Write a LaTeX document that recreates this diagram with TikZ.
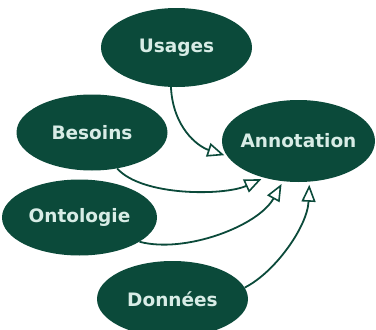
\documentclass[tikz,border=0pt]{standalone}
\usepackage{fontspec}
\setmainfont{DejaVu Sans}
\usetikzlibrary{shapes.geometric,arrows.meta}
\definecolor{dkgreen}{HTML}{0B4A3A}
\definecolor{mint}{HTML}{D8ECE6}
\tikzset{
  blob/.style={ellipse, fill=dkgreen, draw=none, inner ysep=0pt, inner xsep=-15pt, text=mint,
    font=\fontsize{18.5}{21}\selectfont\bfseries},
  link/.style={draw=dkgreen, line width=1.8pt,
    -{Triangle[open, length=17pt, width=14pt, line width=1.6pt]}, shorten >=3pt}
}
\begin{document}
\begin{tikzpicture}[x=1pt, y=-1pt]
\useasboundingbox (0,0) rectangle (376,330);
\node[blob, minimum width=151pt, minimum height=79pt] (use) at (176.5,47.5) {Usages};
\node[blob, minimum width=151pt, minimum height=76pt] (bes) at (92,132.5) {Besoins};
\node[blob, minimum width=153pt, minimum height=82pt] (ann) at (298.5,141) {Annotation};
\node[blob, minimum width=155pt, minimum height=76pt] (ont) at (79.5,217.5) {Ontologie};
\node[blob, minimum width=151pt, minimum height=76pt] (don) at (172.5,299) {Données};
\draw[link] (use.262) .. controls +(2,40) and +(-30,-10) .. (ann.192);
\draw[link] (bes.305) .. controls +(25,28) and +(-40,18) .. (ann.227);
\draw[link] (ont.338) .. controls +(45,12) and +(-25,45) .. (ann.249);
\draw[link] (don.9) .. controls +(30,-15) and +(-2,45) .. (ann.285);
\end{tikzpicture}
\end{document}
